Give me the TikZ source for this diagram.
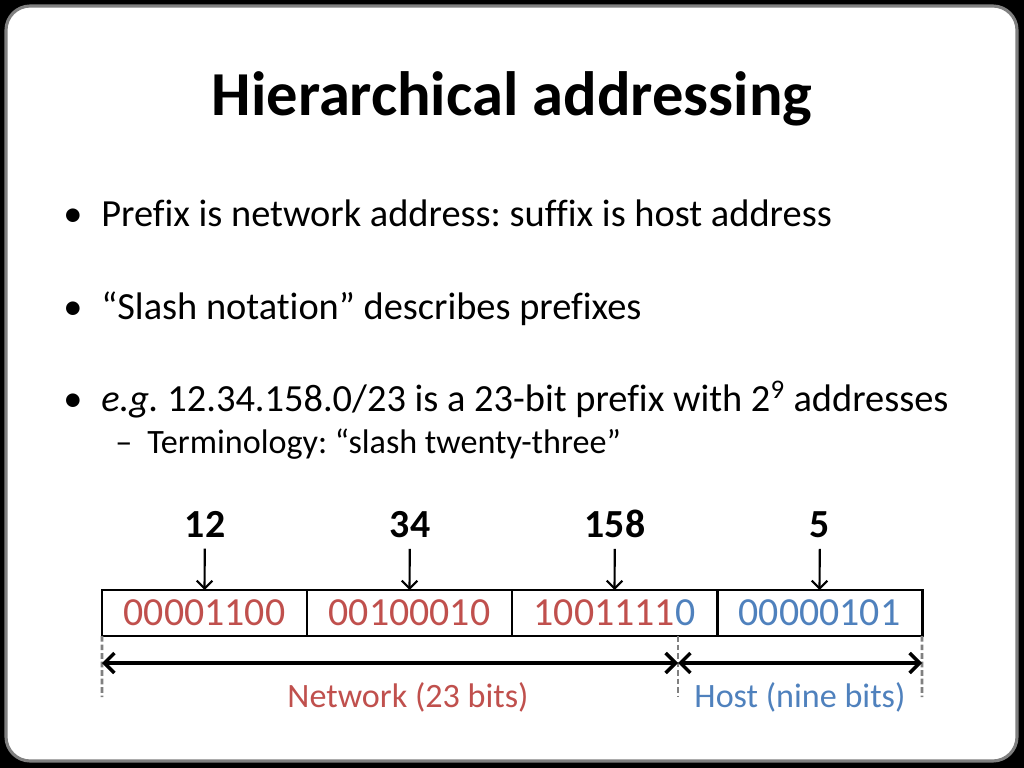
\documentclass[tikz,border=0pt]{standalone}
\usepackage{fontspec}
\setmainfont{Carlito}[Ligatures={NoCommon}]
\usetikzlibrary{arrows.meta, positioning, calc}
\definecolor{netred}{RGB}{192, 80, 77}
\definecolor{hostblue}{RGB}{79, 129, 189}
\definecolor{framegray}{RGB}{128, 128, 128}
\frenchspacing

\begin{document}
\begin{tikzpicture}[x=0.703125pt, y=-0.703125pt,
  slidetext/.style={inner sep=0pt, anchor=base west, font=\fontsize{27}{33}\selectfont},
  subtext/.style={slidetext, font=\fontsize{24}{29}\selectfont},
  bulletdot/.style={inner sep=0pt, anchor=base, font=\fontsize{27}{33}\selectfont},
  bytenum/.style={inner sep=0pt, anchor=base, font=\bfseries\fontsize{28}{34}\selectfont},
  bytebox/.style={draw, line width=2.1pt, minimum width=144.14pt, minimum height=32.34pt, inner sep=0pt, outer sep=0pt, font=\fontsize{28}{34}\selectfont},
  pointer/.style={-{Straight Barb[length=5.5pt, width=11pt, line width=1.5pt]}, line width=1.5pt, shorten <=8pt},
  span/.style={{Straight Barb[length=7pt, width=14pt]}-{Straight Barb[length=7pt, width=14pt]}, line width=2.4pt},
  guide/.style={framegray, line width=2pt, dash pattern=on 4pt off 2pt}]
  % Slide frame
  \fill[black] (0,0) rectangle (1024,768);
  \draw[framegray, line width=2.2pt, fill=white, rounded corners=17pt] (6,6) rectangle (1017,761);

  % Title and bullets
  \node[inner sep=0pt, anchor=base, font=\bfseries\fontsize{44}{52}\selectfont] (title) at (512,116) {Hierarchical addressing};
  \node[bulletdot] (dotA) at (73,227) {•};
  \node[slidetext] (lineA) at (101,227) {Prefix is network address: suffix is host address};
  \node[bulletdot] (dotB) at (73,319) {•};
  \node[slidetext] (lineB) at (101,319) {“Slash notation” describes prefixes};
  \node[bulletdot] (dotC) at (73,411) {•};
  \node[slidetext] (lineC) at (101,411) {\textit{e.g.} 12.34.158.0/23 is a 23-bit prefix with 2\textsuperscript{9} addresses};
  \node[subtext] (dashD) at (115,453) {–};
  \node[subtext] (lineD) at (147,453) {Terminology: “slash twenty-three”};

  % Address bytes
  \node[bytebox, text=netred] (field1) at (204.5,613) {00001100};
  \node[bytebox, text=netred, right=0pt of field1] (field2) {00100010};
  \node[bytebox, right=0pt of field2] (field3) {\textcolor{netred}{1001111}\textcolor{hostblue}{0}};
  \node[bytebox, text=hostblue, right=0pt of field3] (field4) {00000101};

  \node[bytenum] (n12) at (205,537) {12};
  \node[bytenum] (n34) at (410,537) {34};
  \node[bytenum] (n158) at (615,537) {158};
  \node[bytenum] (n5) at (820,537) {5};
  \draw[pointer] (n12) -- (field1.north);
  \draw[pointer] (n34) -- (field2.north);
  \draw[pointer] (n158) -- (field3.north);
  \draw[pointer] (n5) -- (field4.north);

  % Network / host split
  \coordinate (splitTop) at (678,636);
  \coordinate (leftEnd) at (102,697);
  \coordinate (splitEnd) at (678,697);
  \coordinate (rightEnd) at (922,697);
  \draw[guide] (field1.south west) -- (leftEnd);
  \draw[guide] (splitTop) -- (splitEnd);
  \draw[guide] (field4.south east) -- (rightEnd);
  \coordinate (spanL) at (102,663);
  \coordinate (spanM) at (678,663);
  \coordinate (spanR) at (922,663);
  \draw[span] (spanL) -- (spanM);
  \draw[span] (spanM) -- (spanR);
  \node[font=\fontsize{24}{29}\selectfont, text=netred, inner sep=0pt] (netlabel) at (408,697) {Network (23 bits)};
  \node[font=\fontsize{24}{29}\selectfont, text=hostblue, inner sep=0pt] (hostlabel) at (800,697) {Host (nine bits)};
\end{tikzpicture}
\end{document}
